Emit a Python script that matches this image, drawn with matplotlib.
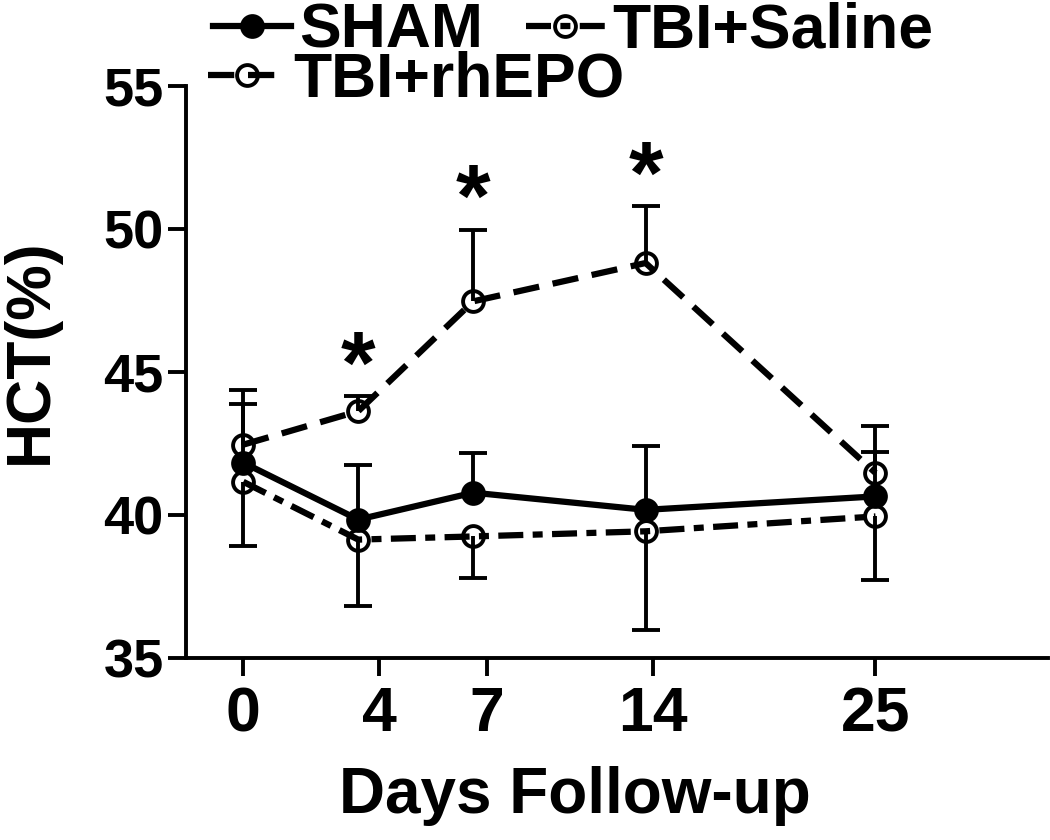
import numpy as np
import matplotlib
matplotlib.use("Agg")
import matplotlib.pyplot as plt

plt.rcParams["font.family"] = ["Liberation Sans", "DejaVu Sans"]
plt.rcParams["font.weight"] = "bold"

# データ
days = ["0", "4", "7", "14", "25"]
sham = [41.82, 39.83, 40.77, 40.17, 40.64]
sham_err = [2.06, 1.92, 1.40, 2.22, 1.55]
saline = [41.15, 39.13, 39.24, 39.42, 39.94]
saline_err = [2.25, 2.33, 1.44, 3.44, 2.21]
epo = [42.45, 43.62, 47.46, 48.80, 41.46]
epo_err = [1.90, 0.52, 2.51, 1.98, 1.65]
signif = [False, True, True, True, False]

# 横軸の配置（元図の点と目盛りの位置）
x_pos = [0, 1, 2, 3.5, 5.5]
tick_pos = [0, 1.18, 2.12, 3.56, 5.5]

fig = plt.figure(figsize=(10.5, 8.4), dpi=100)
ax = fig.add_axes([0.177, 0.217, 0.821, 0.681])

zeros = np.zeros(len(days))

def draw(y, err, up, ls, mfc):
    yerr = [zeros, err] if up else [err, zeros]
    cont = ax.errorbar(x_pos, y, yerr=yerr, color="black", ls=ls, lw=4.5,
                       marker="o", ms=15, mfc=mfc, mec="black", mew=2.8,
                       elinewidth=2.8, capsize=10, capthick=2.8)
    caps = cont[1]
    caps[0 if up else 1].set_visible(False)  # 片側だけのエラーバー
    return cont[0]

h_sham = draw(sham, sham_err, True, "-", "black")
h_sal = draw(saline, saline_err, False, (0, (4.0, 1.5, 1.6, 1.5)), "none")
h_epo = draw(epo, epo_err, True, (0, (4.2, 2.2)), "none")

# 有意差の印
for x, y, e, s in zip(x_pos, epo, epo_err, signif):
    if s:
        ax.annotate("*", (x, y + e), xytext=(0, 2.5), textcoords="offset points",
                    ha="center", va="baseline", fontsize=64, fontweight="bold")

ax.set_xlim(-0.5, 7.0)
ax.set_ylim(35, 55)
ax.set_yticks([35, 40, 45, 50, 55])
ax.set_xticks(tick_pos)
ax.set_xticklabels(days)
ax.tick_params(width=2.8, length=13)
ax.tick_params(axis="y", labelsize=39, pad=3)
ax.tick_params(axis="x", labelsize=45, pad=7)
for side in ["top", "right"]:
    ax.spines[side].set_visible(False)
for side in ["left", "bottom"]:
    ax.spines[side].set_linewidth(2.8)

ax.set_ylabel("HCT(%)", fontsize=45, fontweight="bold")
ax.set_xlabel("Days Follow-up", fontsize=46, fontweight="bold")
ax.xaxis.set_label_coords(0.451, -0.19)
ax.yaxis.set_label_coords(-0.146, 0.535)

leg_kw = dict(loc="upper left", frameon=False, fontsize=45, numpoints=1,
              handlelength=1.25, handletextpad=0.12, borderpad=0, borderaxespad=0)
leg1 = fig.legend([h_sham, h_sal], ["SHAM", "TBI+Saline"], ncol=2,
                  columnspacing=0.7, bbox_to_anchor=(0.203, 0.998), **leg_kw)
leg2 = fig.legend([h_epo], ["TBI+rhEPO"], bbox_to_anchor=(0.198, 0.940), **leg_kw)

fig.savefig("out.png", dpi=100)
